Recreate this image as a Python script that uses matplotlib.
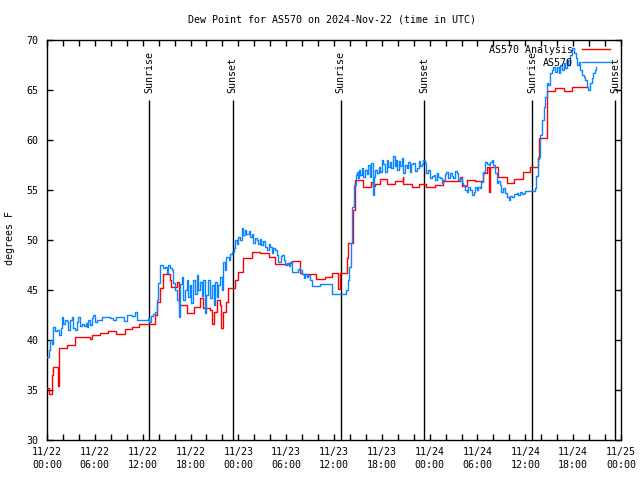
import matplotlib
matplotlib.use("Agg")
import matplotlib.pyplot as plt

# ---- data (hours since 2024-11-22 00:00 UTC) ----
analysis_hours = [0.0, 0.3, 0.6, 0.8, 1.35, 1.55, 2.45, 3.5, 5.4, 5.6, 6.65, 7.7, 8.7, 9.8,
                  10.6, 11.5, 13.55, 13.75, 14.2, 14.6, 15.4, 15.6, 16.3, 16.5, 17.5, 18.4,
                  19.2, 19.6, 20.5, 20.7, 20.9, 21.3, 21.7, 21.85, 22.05, 22.5, 22.75, 23.6,
                  24.0, 24.6, 25.7, 26.7, 27.8, 28.6, 30.5, 30.7, 31.7, 31.95, 33.8, 34.9,
                  35.7, 36.5, 36.7, 37.6, 37.8, 38.4, 38.6, 39.7, 40.7, 40.9, 41.15, 41.8,
                  42.6, 43.7, 44.6, 44.7, 45.75, 46.6, 47.6, 48.7, 49.7, 51.8, 52.0, 52.7,
                  53.7, 54.7, 55.2, 55.45, 55.6, 56.6, 57.7, 58.6, 59.7, 60.6, 61.6, 61.75,
                  62.7, 63.7, 64.8, 65.8, 67.7]
analysis_vals = [35.2, 34.6, 36.5, 37.3, 35.4, 39.2, 39.5, 40.3, 40.1, 40.5, 40.7, 40.9, 40.6, 41.1,
                 41.3, 41.6, 42.5, 43.8, 45.2, 46.6, 46.0, 45.3, 45.8, 43.5, 42.7, 43.3,
                 44.2, 43.2, 43.0, 41.6, 42.8, 44.0, 43.5, 41.2, 42.8, 43.8, 45.2, 46.0,
                 46.8, 48.2, 48.8, 48.7, 48.3, 47.6, 47.7, 47.9, 46.7, 46.6, 46.1, 46.3,
                 46.7, 45.1, 46.7, 48.2, 49.7, 53.0, 56.0, 55.3, 55.8, 55.4, 55.6, 56.1,
                 55.6, 55.9, 56.3, 55.6, 55.3, 55.6, 55.3, 55.5, 55.9, 56.3, 55.4, 56.0,
                 55.9, 56.7, 57.3, 54.8, 57.3, 56.3, 55.7, 56.1, 56.8, 57.3, 58.1, 60.2,
                 64.9, 65.2, 64.9, 65.3, 65.3]

obs_hours = [0.0, 0.2, 0.4, 0.6, 0.8, 1.0, 1.3, 1.5, 1.7, 1.85, 2.0, 2.2, 2.45, 2.65, 2.9, 3.1,
             3.3, 3.5, 3.75, 3.95, 4.15, 4.4, 4.6, 4.85, 5.0, 5.2, 5.4, 5.6, 5.8, 6.0, 6.25,
             6.65, 6.9, 7.9, 8.3, 8.7, 9.6, 10.0, 10.6, 11.0, 11.25, 12.7, 12.85, 13.0, 13.3,
             13.55, 13.75, 13.95, 14.2, 14.5, 14.8, 15.0, 15.2, 15.45, 15.65, 15.85, 16.05,
             16.25, 16.5, 16.65, 16.9, 17.1, 17.3, 17.5, 17.7, 17.9, 18.1, 18.3, 18.55, 18.8,
             19.0, 19.2, 19.4, 19.6, 19.8, 20.0, 20.2, 20.45, 20.7, 20.9, 21.1, 21.3, 21.5,
             21.7, 21.9, 22.1, 22.3, 22.5, 22.8, 23.0, 23.2, 23.4, 23.6, 23.8, 24.0, 24.2,
             24.4, 24.6, 24.8, 25.0, 25.3, 25.5, 25.7, 25.9, 26.1, 26.3, 26.5, 26.7, 26.9,
             27.1, 27.35, 27.6, 27.8, 28.0, 28.2, 28.4, 28.6, 28.8, 29.0, 29.3, 29.5, 29.7,
             29.9, 30.1, 30.3, 30.5, 30.7, 31.3, 31.5, 31.7, 31.95, 32.2, 32.4, 32.6, 32.8,
             33.0, 33.2, 34.25, 35.7, 37.5, 37.7, 37.9, 38.1, 38.3, 38.5, 38.7, 38.85, 39.0,
             39.15, 39.3, 39.5, 39.7, 39.9, 40.1, 40.3, 40.5, 40.7, 40.85, 41.0, 41.2, 41.4,
             41.6, 41.8, 42.0, 42.2, 42.4, 42.6, 42.8, 43.0, 43.2, 43.4, 43.6, 43.8, 43.95,
             44.1, 44.3, 44.5, 44.7, 44.9, 45.1, 45.3, 45.5, 45.7, 45.95, 46.15, 46.4, 46.6,
             46.8, 47.0, 47.2, 47.4, 47.6, 47.8, 48.05, 48.3, 48.5, 48.7, 48.9, 49.1, 49.3,
             49.5, 49.7, 49.9, 50.1, 50.3, 50.55, 50.75, 50.95, 51.2, 51.4, 51.6, 51.8, 52.0,
             52.2, 52.4, 52.65, 52.85, 53.05, 53.3, 53.5, 53.7, 53.9, 54.1, 54.3, 54.5, 54.75,
             54.95, 55.2, 55.4, 55.6, 55.8, 56.0, 56.2, 56.4, 56.6, 56.8, 57.0, 57.25, 57.5,
             57.7, 57.9, 58.1, 58.3, 58.6, 58.9, 59.1, 59.35, 59.6, 59.8, 60.0, 61.0, 61.2,
             61.4, 61.6, 61.85, 62.1, 62.3, 62.5, 62.7, 62.9, 63.1, 63.3, 63.5, 63.7, 63.95,
             64.2, 64.4, 64.6, 64.8, 65.0, 65.2, 65.4, 65.6, 65.8, 66.1, 66.3, 66.5, 66.7,
             66.9, 67.1, 67.3, 67.5, 67.7, 67.9, 68.1, 68.3, 68.5, 68.7, 68.9]
obs_vals = [38.3, 39.0, 40.0, 39.6, 41.3, 40.9, 41.0, 40.5, 41.2, 42.3, 41.6, 42.0, 41.9, 41.0, 42.0, 42.3,
            41.2, 41.0, 41.8, 42.3, 41.4, 41.6, 41.4, 41.7, 41.3, 42.0, 41.5, 42.2, 42.5, 41.8, 42.0,
            42.0, 42.3, 42.2, 42.0, 42.3, 41.9, 42.5, 42.4, 42.8, 42.0, 42.2, 41.8, 42.4, 42.6,
            42.8, 44.0, 45.7, 47.5, 47.2, 47.3, 46.7, 47.5, 47.2, 47.0, 45.7, 45.0,
            44.0, 42.3, 45.6, 46.3, 44.0, 45.0, 46.0, 44.3, 45.5, 43.7, 46.0, 44.6, 46.5,
            45.0, 45.8, 44.4, 46.0, 42.7, 44.5, 46.0, 44.2, 45.5, 43.5, 45.8, 44.3, 45.5,
            46.3, 45.0, 47.8, 47.0, 48.3, 48.0, 48.6, 48.8, 49.2, 50.0, 49.6, 50.3, 50.0,
            51.2, 50.5, 51.0, 50.6, 50.9, 50.3, 50.6, 49.7, 50.2, 50.0, 49.6, 50.1, 49.5,
            49.9, 49.3, 49.0, 49.6, 49.3, 48.7, 49.2, 49.0, 48.5, 47.8, 48.4, 48.5, 48.0,
            47.5, 47.7, 47.4, 47.8, 46.8, 46.8, 47.1, 47.0, 46.6, 46.2, 46.6, 46.3, 46.5,
            46.0, 45.4, 45.6, 44.6, 45.0, 46.0, 47.3, 49.7, 53.3, 55.5, 56.5, 56.8, 56.2,
            57.0, 56.5, 57.2, 56.3, 57.0, 56.6, 57.5, 56.3, 57.7, 54.5, 56.3, 57.0, 56.7,
            57.3, 56.8, 58.0, 57.6, 56.8, 58.0, 57.3, 57.8, 57.2, 58.4, 57.4, 58.0, 57.0,
            57.9, 57.4, 58.2, 56.7, 57.5, 57.2, 57.8, 56.8, 57.6, 57.7, 56.9, 57.2, 57.9,
            57.4, 57.6, 58.0, 57.7, 56.7, 57.0, 56.2, 56.4, 56.5, 56.0, 56.7, 56.3, 56.2,
            55.7, 56.0, 56.6, 56.8, 56.2, 56.7, 56.4, 56.2, 56.9, 56.7, 56.0, 56.2, 55.7,
            55.5, 55.0, 54.8, 55.3, 55.0, 54.5, 54.8, 55.3, 55.0, 55.3, 55.2, 55.8, 56.8,
            57.8, 57.6, 57.5, 57.8, 58.0, 57.5, 56.7, 55.7, 55.9, 55.5, 54.8, 55.2, 54.7,
            54.3, 54.0, 54.4, 54.3, 54.6, 54.7, 54.5, 54.8, 54.6, 54.7, 54.9, 54.9, 55.2,
            56.4, 58.3, 60.5, 62.0, 63.3, 64.3, 65.7, 65.5, 66.7, 67.0, 67.3, 66.8, 67.3,
            66.7, 67.5, 67.0, 67.7, 67.2, 68.0, 67.5, 68.5, 69.2, 68.7, 68.2, 67.5, 67.8,
            67.0, 66.5, 66.3, 66.0, 65.3, 65.0, 65.7, 66.2, 66.7, 67.0, 67.3]

sun_events = ["Sunrise", "Sunset", "Sunrise", "Sunset", "Sunrise", "Sunset"]
sun_hours = [12.85, 23.3, 36.85, 47.3, 60.85, 71.3]

x_tick_hours = list(range(0, 73, 2))
x_label_hours = [0, 6, 12, 18, 24, 30, 36, 42, 48, 54, 60, 66, 72]
x_label_texts = ["11/22\n00:00", "11/22\n06:00", "11/22\n12:00", "11/22\n18:00",
                 "11/23\n00:00", "11/23\n06:00", "11/23\n12:00", "11/23\n18:00",
                 "11/24\n00:00", "11/24\n06:00", "11/24\n12:00", "11/24\n18:00",
                 "11/25\n00:00"]
y_ticks = [30, 35, 40, 45, 50, 55, 60, 65, 70]

# ---- figure ----
FONT = "DejaVu Sans Mono"
FS = 7.2
plt.rcParams["font.family"] = FONT
plt.rcParams["font.size"] = FS

fig = plt.figure(figsize=(6.4, 4.8), dpi=100)
ax = fig.add_axes([47 / 640, 40 / 480, 574 / 640, 400 / 480])

ax.plot(analysis_hours, analysis_vals, drawstyle="steps-post", color="#ff0000",
        lw=1.0, label="AS570 Analysis", zorder=3)
ax.plot(obs_hours, obs_vals, drawstyle="steps-post", color="#0a84ff",
        lw=1.0, label="AS570", zorder=4)

for name, h in zip(sun_events, sun_hours):
    ax.vlines(h, 30, 64.0, color="black", lw=1.0, zorder=2)
    ax.text(h, 64.7, name, rotation=90, ha="center", va="bottom", fontsize=FS,
            color="black", zorder=5)

ax.set_xlim(0, 72)
ax.set_ylim(30, 70)
ax.set_xticks(x_tick_hours)
labels = []
for h in x_tick_hours:
    if h in x_label_hours:
        labels.append(x_label_texts[x_label_hours.index(h)])
    else:
        labels.append("")
ax.set_xticklabels(labels, linespacing=1.35)
ax.set_yticks(y_ticks)
ax.set_yticklabels([str(v) for v in y_ticks])
ax.tick_params(axis="both", direction="in", length=4, width=1.0, color="black",
               top=True, right=True, labelsize=FS)
ax.tick_params(axis="x", pad=5)
ax.tick_params(axis="y", pad=6)
for s in ax.spines.values():
    s.set_linewidth(1.0)
    s.set_color("black")

leg = ax.legend(loc="upper right", bbox_to_anchor=((610 - 47) / 574, 1 - 5 / 400),
                markerfirst=False, frameon=False, handlelength=2.8,
                handletextpad=0.9, labelspacing=0.3, borderpad=0, borderaxespad=0,
                fontsize=FS)
leg.set_zorder(6)

fig.text(332 / 640, 1 - 20 / 480, "Dew Point for AS570 on 2024-Nov-22 (time in UTC)",
         ha="center", va="center", fontsize=FS)
fig.text(10 / 640, 1 - 238 / 480, "degrees F", rotation=90, ha="center", va="center",
         fontsize=FS)

fig.savefig("out.png", dpi=100)
